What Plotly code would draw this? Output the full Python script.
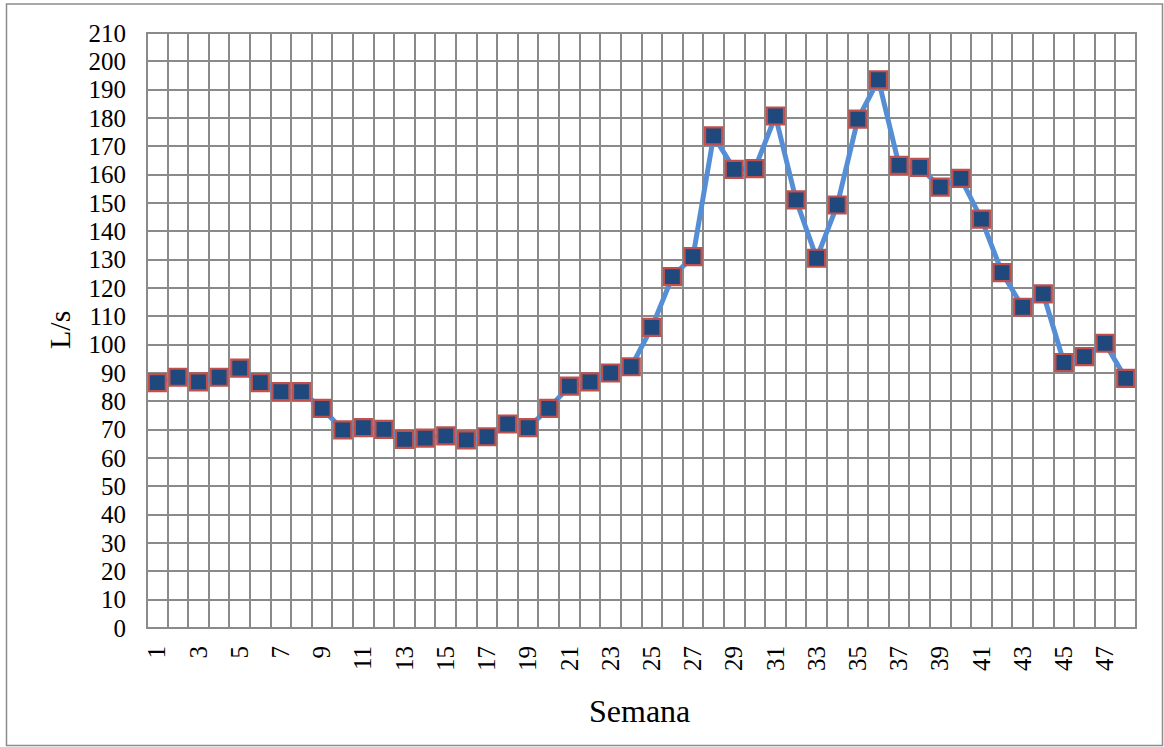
import plotly.graph_objects as go

semana = list(range(1, 49))
caudal = [86.6, 88.5, 86.9, 88.5, 91.7, 86.6, 83.4, 83.4, 77.5, 69.9,
          70.7, 70.1, 66.6, 67.0, 67.8, 66.4, 67.5, 72.0, 70.7, 77.5,
          85.4, 86.9, 90.0, 92.2, 106.1, 124.0, 131.1, 173.7, 161.9, 162.1,
          180.7, 151.1, 130.5, 149.3, 179.6, 193.5, 163.3, 162.6, 155.6, 158.7,
          144.3, 125.4, 113.2, 117.9, 93.7, 95.8, 100.5, 88.1]
x_ticks = list(range(1, 48, 2))
y_ticks = list(range(0, 211, 10))

W, H = 1164, 747
L, R, T, B = 147, 1164 - 1136, 33, 747 - 628
pw, ph = W - L - R, H - T - B

def px(x):
    return (x - L) / pw

def py(y):
    return (H - B - y) / ph

font = "Liberation Serif, Times New Roman, serif"
grid = "#8a8a8a"

fig = go.Figure()
fig.add_trace(go.Scatter(
    x=semana, y=caudal, mode="lines+markers",
    line=dict(color="#558ED5", width=5),
    marker=dict(symbol="square", size=17, color="#1F497D",
                line=dict(color="#C0504D", width=2.2)),
    showlegend=False, cliponaxis=False,
))

fig.update_layout(
    width=W, height=H,
    margin=dict(l=L, r=R, t=T, b=B),
    paper_bgcolor="white", plot_bgcolor="white",
    font=dict(family=font, color="black", size=25),
    xaxis=dict(
        range=[0.5, 48.5], tickmode="array", tickvals=x_ticks,
        ticktext=[str(v) for v in x_ticks], tickangle=-90,
        showgrid=False, zeroline=False, showline=False, ticks="",
        ticklabelstandoff=12,
        tickfont=dict(size=25, family=font),
        minor=dict(tick0=0.5, dtick=1, showgrid=True, gridcolor=grid, gridwidth=2),
    ),
    yaxis=dict(
        range=[0, 210], tickmode="array", tickvals=y_ticks,
        showgrid=True, gridcolor=grid, gridwidth=2,
        zeroline=False, showline=False, ticks="",
        ticklabelstandoff=20,
        tickfont=dict(size=25, family=font),
    ),
    shapes=[
        dict(type="rect", xref="paper", yref="paper", x0=0, x1=1, y0=0, y1=1,
             line=dict(color=grid, width=2), fillcolor="rgba(0,0,0,0)", layer="above"),
        dict(type="rect", xref="paper", yref="paper",
             x0=px(6.5), x1=px(1162.5), y0=py(745.5), y1=py(4),
             line=dict(color="#8c8c8c", width=1.5), fillcolor="rgba(0,0,0,0)"),
    ],
    annotations=[
        dict(text="Semana", xref="paper", yref="paper", x=px(639), y=py(711),
             showarrow=False, font=dict(size=32, family=font),
             xanchor="center", yanchor="middle"),
        dict(text="L/s", xref="paper", yref="paper", x=px(59), y=py(330),
             showarrow=False, textangle=-90, font=dict(size=30, family=font),
             xanchor="center", yanchor="middle"),
    ],
)

fig.write_html("out.html", config={"displayModeBar": False},
               post_script="document.body.style.margin='0';document.body.style.overflow='hidden';")
